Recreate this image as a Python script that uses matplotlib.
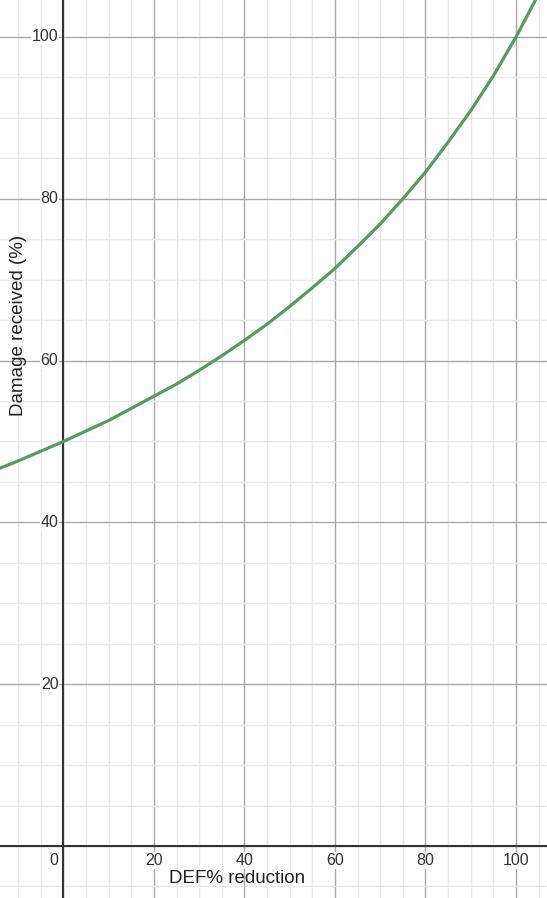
import matplotlib.pyplot as plt
import numpy as np

# values
def_reduction = [-14, -10, -5, 0, 5, 10, 15, 20, 25, 30, 35, 40, 45,
                 50, 55, 60, 65, 70, 75, 80, 85, 90, 95, 100, 105]
damage_received = [46.7, 47.6, 48.8, 50.0, 51.3, 52.6, 54.1, 55.6, 57.1,
                   58.8, 60.6, 62.5, 64.5, 66.7, 69.0, 71.4, 74.1, 76.9,
                   80.0, 83.3, 87.0, 90.9, 95.2, 100.0, 105.3]

x_ticks = [0, 20, 40, 60, 80, 100]
y_ticks = [20, 40, 60, 80, 100]

plt.rcParams['font.family'] = ['Liberation Sans', 'DejaVu Sans']

fig = plt.figure(figsize=(5.47, 8.98), dpi=100)
ax = fig.add_axes([0, 0, 1, 1])
ax.set_xlim(-14.03, 106.85)
ax.set_ylim(-6.43, 104.57)

# grid: minor every 5, major every 20
for v in np.arange(-10, 110, 5):
    major = v % 20 == 0
    ax.axvline(v, color='#a8a8a8' if major else '#e8e8e8', lw=1.0, zorder=0)
for v in np.arange(-5, 110, 5):
    major = v % 20 == 0
    ax.axhline(v, color='#a8a8a8' if major else '#e8e8e8', lw=1.0, zorder=0)

ax.axvline(0, color='#333333', lw=1.5, zorder=1)
ax.axhline(0, color='#333333', lw=1.5, zorder=1)

ax.plot(def_reduction, damage_received, color='#529c5e', lw=2.3, zorder=3,
        solid_capstyle='round')

box = dict(facecolor='white', edgecolor='none', pad=0.5)
for v in y_ticks:
    ax.annotate(str(v), xy=(0, v), xytext=(-5, 0), textcoords='offset pixels',
                ha='right', va='center', fontsize=11.5, color='#333333',
                bbox=box, zorder=2)
for v in x_ticks:
    if v == 0:
        ax.annotate('0', xy=(0, 0), xytext=(-5, -7), textcoords='offset pixels',
                    ha='right', va='top', fontsize=11.5, color='#333333',
                    bbox=box, zorder=2)
    else:
        ax.annotate(str(v), xy=(v, 0), xytext=(0, -7), textcoords='offset pixels',
                    ha='center', va='top', fontsize=11.5, color='#333333',
                    bbox=box, zorder=2)

fig.text(0.433, 0.022, 'DEF% reduction', ha='center', va='center',
         fontsize=13.5, color='#222222')
fig.text(0.033, 0.638, 'Damage received (%)', ha='center', va='center',
         rotation=90, fontsize=13.5, color='#222222')

ax.axis('off')
fig.savefig('out.png', dpi=100)
